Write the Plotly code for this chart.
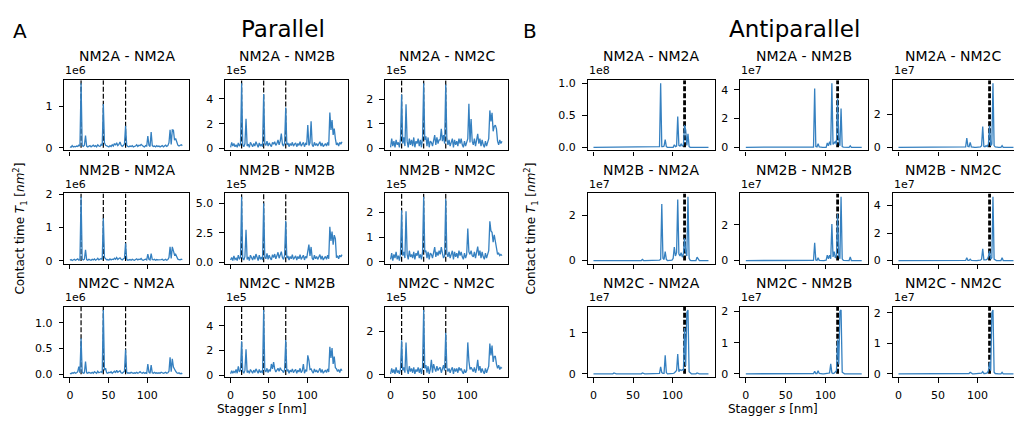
import plotly.graph_objects as go

W, H = 1014, 424

# Stagger grid (nm)
stagger = [round(i * 1.44, 2) for i in range(102)]

proteins = ["NM2A", "NM2B", "NM2C"]

# ---------------- Parallel: values in units of 10^(exp-2) ----------------
par_exp = [[6, 5, 5], [6, 5, 5], [6, 5, 5]]

par_2A_2A = [2, 1, 5, 2, 3, 2, 4, 3, 6, 4,
             155, 5, 3, 6, 29, 4, 2, 3, 5, 2,
             4, 6, 3, 5, 2, 7, 4, 3, 8, 5,
             105, 12, 6, 4, 3, 2, 5, 3, 7, 4,
             10, 6, 12, 5, 8, 14, 6, 3, 5, 9,
             53, 6, 3, 2, 4, 3, 5, 2, 3, 4,
             7, 3, 6, 5, 8, 4, 3, 2, 5, 4,
             28, 6, 3, 38, 5, 3, 4, 2, 5, 3,
             4, 2, 3, 5, 2, 4, 6, 3, 5, 12,
             43, 8, 43, 42, 18, 22, 10, 6, 4, 5,
             7, 5]
par_2A_2B = [10, 50, 20, 40, 15, 30, 10, 45, 20, 35,
             525, 30, 15, 40, 240, 20, 35, 10, 50, 25,
             15, 40, 20, 55, 30, 10, 45, 20, 35, 15,
             440, 40, 25, 60, 20, 45, 30, 15, 50, 35,
             55, 25, 40, 70, 30, 60, 120, 35, 20, 45,
             330, 30, 45, 15, 40, 25, 50, 20, 35, 45,
             15, 40, 25, 55, 20, 35, 50, 15, 40, 30,
             190, 25, 45, 220, 30, 15, 50, 25, 40, 20,
             35, 55, 20, 45, 15, 30, 40, 20, 50, 25,
             290, 150, 230, 110, 160, 80, 30, 45, 20, 50,
             35, 55]
par_2A_2C = [5, 40, 10, 30, 5, 35, 15, 25, 5, 40,
             220, 20, 45, 10, 180, 30, 5, 40, 15, 35,
             10, 45, 5, 30, 20, 40, 10, 35, 5, 45,
             265, 35, 50, 10, 45, 5, 30, 25, 10, 40,
             55, 15, 45, 20, 35, 35, 80, 30, 55, 20,
             260, 40, 15, 35, 10, 25, 40, 5, 35, 15,
             30, 10, 40, 20, 40, 15, 5, 30, 10, 25,
             40, 182, 25, 120, 30, 15, 40, 10, 35, 60,
             20, 40, 10, 35, 15, 5, 30, 10, 25, 40,
             155, 110, 145, 70, 90, 95, 80, 30, 15, 35,
             20, 30]
par_2B_2A = [2, 4, 1, 3, 5, 2, 3, 6, 2, 4,
             193, 6, 3, 5, 33, 4, 2, 5, 3, 2,
             5, 3, 6, 2, 4, 8, 3, 5, 7, 4,
             128, 10, 5, 3, 4, 2, 6, 3, 5, 4,
             8, 5, 10, 4, 7, 9, 5, 3, 6, 8,
             53, 5, 2, 3, 4, 2, 5, 3, 2, 4,
             6, 3, 5, 4, 7, 3, 2, 4, 5, 3,
             20, 5, 3, 22, 4, 3, 5, 2, 4, 3,
             3, 2, 4, 5, 2, 3, 5, 2, 4, 10,
             42, 7, 42, 30, 18, 20, 9, 5, 4, 3,
             5, 4]
par_2B_2B = [20, 40, 15, 55, 25, 35, 15, 60, 30, 40,
             555, 35, 20, 50, 275, 25, 45, 15, 60, 30,
             20, 55, 25, 70, 35, 15, 60, 25, 45, 20,
             500, 45, 30, 75, 25, 60, 35, 20, 65, 40,
             70, 30, 55, 85, 35, 75, 90, 40, 25, 60,
             350, 35, 55, 20, 50, 30, 65, 25, 45, 55,
             20, 50, 30, 65, 25, 45, 60, 20, 50, 35,
             120, 150, 55, 130, 35, 20, 60, 30, 50, 25,
             45, 65, 25, 55, 20, 40, 50, 25, 60, 30,
             300, 180, 260, 150, 230, 200, 40, 55, 30, 60,
             45, 65]
par_2B_2C = [10, 35, 5, 30, 15, 40, 10, 25, 5, 35,
             210, 25, 40, 15, 205, 30, 10, 45, 20, 30,
             15, 40, 10, 35, 25, 45, 15, 30, 10, 40,
             265, 40, 45, 15, 40, 10, 35, 30, 15, 45,
             60, 20, 40, 25, 45, 30, 60, 35, 15, 25,
             255, 35, 20, 40, 15, 30, 45, 10, 40, 20,
             35, 15, 45, 25, 40, 20, 10, 35, 15, 30,
             135, 40, 30, 45, 25, 20, 40, 15, 35, 62,
             25, 45, 15, 40, 20, 10, 35, 15, 30, 45,
             165, 125, 120, 80, 110, 80, 45, 30, 35, 25,
             30, 25]
par_2C_2A = [2, 1, 3, 2, 4, 2, 3, 5, 15, 3,
             70, 4, 2, 3, 25, 3, 2, 4, 3, 2,
             4, 2, 5, 3, 2, 6, 3, 4, 5, 3,
             125, 8, 12, 3, 2, 4, 3, 5, 2, 4,
             6, 3, 8, 4, 5, 7, 3, 2, 4, 6,
             48, 4, 2, 3, 2, 4, 3, 2, 3, 2,
             4, 2, 3, 5, 3, 2, 4, 2, 3, 2,
             20, 4, 2, 18, 3, 2, 4, 2, 3, 2,
             3, 2, 4, 3, 2, 3, 4, 2, 3, 6,
             33, 5, 30, 14, 8, 6, 3, 2, 3, 1,
             2, 1]
par_2C_2B = [10, 35, 15, 30, 20, 45, 15, 70, 25, 40,
             275, 30, 15, 40, 210, 20, 35, 15, 45, 25,
             15, 40, 20, 50, 30, 15, 45, 20, 35, 15,
             530, 40, 25, 55, 20, 45, 30, 90, 50, 105,
             50, 25, 40, 55, 30, 60, 40, 35, 20, 45,
             285, 30, 45, 15, 40, 25, 50, 20, 35, 45,
             15, 40, 25, 55, 20, 35, 90, 15, 40, 30,
             160, 120, 45, 50, 30, 15, 50, 25, 40, 20,
             35, 55, 20, 45, 15, 30, 40, 20, 50, 25,
             230, 140, 220, 90, 150, 60, 50, 30, 45, 20,
             50, 35]
par_2C_2C = [5, 30, 10, 25, 5, 35, 10, 20, 5, 30,
             160, 20, 35, 10, 150, 25, 5, 40, 15, 30,
             10, 35, 5, 25, 15, 35, 10, 30, 5, 40,
             300, 30, 45, 10, 40, 5, 25, 70, 10, 50,
             30, 15, 40, 20, 30, 35, 10, 25, 45, 20,
             195, 35, 15, 30, 10, 25, 35, 5, 30, 15,
             30, 10, 35, 20, 30, 15, 5, 25, 10, 20,
             150, 65, 25, 35, 20, 15, 35, 10, 30, 70,
             20, 40, 10, 30, 15, 5, 30, 10, 25, 40,
             145, 90, 135, 60, 85, 85, 50, 30, 45, 25,
             35, 30]

# ---------------- Antiparallel: values in units of 10^(exp-2) ----------------
anti_exp = [[8, 7, 7], [7, 7, 7], [7, 7, 7]]

anti_2A_2A = [0, 0, 0, 0, 0, 0, 0, 0, 0, 0,
              0, 0, 0, 0, 0, 0, 0, 0, 0, 0,
              0, 0, 0, 0, 0, 0, 0, 0, 0, 0,
              0, 0, 0, 0, 0, 0, 0, 0, 0, 0,
              0, 0, 0, 0, 0, 0, 0, 0, 0, 0,
              0, 0, 0, 0, 0, 0, 0, 1, 1, 100,
              1, 1, 2, 12, 1, 0, 0, 0, 1, 0,
              0, 4, 1, 2, 48, 3, 2, 5, 2, 4,
              35, 27, 3, 21, 1, 0, 0, 0, 0, 0,
              0, 1, 0, 0, 0, 0, 0, 0, 0, 0,
              0, 0]
anti_2A_2B = [0, 0, 0, 0, 0, 0, 0, 0, 0, 0,
              0, 0, 0, 0, 0, 0, 0, 0, 0, 0,
              0, 0, 0, 0, 0, 0, 0, 0, 0, 0,
              0, 0, 0, 0, 0, 0, 0, 0, 0, 0,
              0, 0, 0, 0, 0, 0, 0, 0, 0, 0,
              0, 0, 0, 0, 0, 0, 0, 0, 1, 2,
              410, 5, 3, 25, 2, 0, 0, 0, 0, 1,
              0, 30, 10, 40, 15, 445, 20, 30, 40, 20,
              340, 60, 10, 270, 5, 1, 0, 0, 0, 0,
              0, 10, 0, 0, 0, 0, 0, 0, 0, 0,
              0, 0]
anti_2A_2C = [0, 0, 0, 0, 0, 0, 0, 0, 0, 0,
              0, 0, 0, 0, 0, 0, 0, 0, 0, 0,
              0, 0, 0, 0, 0, 0, 0, 0, 0, 0,
              0, 0, 0, 0, 0, 0, 0, 0, 0, 0,
              0, 0, 0, 0, 0, 0, 0, 0, 0, 0,
              0, 0, 0, 0, 0, 0, 0, 0, 1, 3,
              55, 5, 3, 30, 2, 0, 0, 0, 0, 1,
              0, 1, 2, 10, 125, 5, 3, 10, 5, 20,
              130, 10, 20, 384, 10, 2, 0, 0, 0, 0,
              0, 10, 0, 0, 0, 0, 0, 0, 0, 0,
              0, 0]
anti_2B_2A = [0, 0, 0, 0, 0, 0, 0, 0, 0, 0,
              0, 0, 0, 0, 0, 0, 0, 0, 0, 0,
              0, 0, 0, 0, 0, 0, 0, 0, 0, 0,
              0, 0, 0, 0, 0, 0, 0, 0, 0, 0,
              0, 0, 0, 5, 0, 0, 0, 0, 0, 0,
              0, 0, 0, 0, 0, 0, 0, 0, 2, 5,
              250, 10, 5, 40, 5, 0, 0, 0, 1, 2,
              10, 60, 20, 35, 270, 30, 20, 35, 15, 30,
              100, 40, 20, 283, 10, 1, 0, 0, 0, 0,
              0, 15, 5, 0, 0, 0, 0, 0, 0, 0,
              0, 0]
anti_2B_2B = [0, 0, 0, 0, 0, 0, 0, 0, 0, 0,
              0, 0, 0, 0, 0, 0, 0, 0, 0, 0,
              0, 0, 0, 0, 0, 0, 0, 0, 0, 0,
              0, 0, 0, 0, 0, 0, 0, 0, 0, 0,
              0, 0, 0, 0, 0, 0, 0, 0, 0, 0,
              0, 0, 0, 0, 0, 0, 0, 0, 0, 1,
              100, 3, 1, 15, 1, 0, 0, 0, 0, 1,
              2, 30, 10, 30, 10, 205, 20, 50, 15, 30,
              260, 30, 10, 358, 10, 1, 0, 0, 0, 0,
              0, 20, 0, 0, 0, 0, 0, 0, 0, 0,
              0, 0]
anti_2B_2C = [0, 0, 0, 0, 0, 0, 0, 0, 0, 0,
              0, 0, 0, 0, 0, 0, 0, 0, 0, 0,
              0, 0, 0, 0, 0, 0, 0, 0, 0, 0,
              0, 0, 0, 0, 0, 0, 0, 0, 0, 0,
              0, 0, 0, 0, 0, 0, 0, 0, 0, 0,
              0, 0, 0, 0, 0, 0, 0, 0, 0, 1,
              20, 1, 1, 10, 1, 0, 0, 0, 0, 0,
              1, 2, 3, 10, 85, 5, 3, 5, 10, 30,
              70, 10, 20, 464, 10, 1, 0, 0, 0, 0,
              0, 20, 0, 0, 0, 0, 0, 0, 0, 0,
              0, 0]
anti_2C_2A = [0, 0, 0, 0, 0, 0, 0, 0, 0, 0,
              0, 0, 0, 0, 0, 0, 0, 0, 2, 0,
              0, 0, 0, 0, 0, 0, 0, 0, 0, 0,
              0, 0, 0, 0, 0, 0, 0, 0, 0, 0,
              0, 0, 0, 2, 0, 0, 0, 0, 0, 0,
              0, 0, 0, 0, 0, 0, 0, 0, 1, 17,
              3, 1, 1, 45, 3, 0, 0, 0, 0, 1,
              1, 2, 5, 8, 48, 5, 10, 8, 10, 8,
              112, 20, 150, 156, 5, 1, 0, 0, 0, 0,
              0, 2, 0, 0, 0, 0, 0, 0, 0, 0,
              0, 0]
anti_2C_2B = [0, 0, 0, 0, 0, 0, 0, 0, 0, 0,
              0, 0, 0, 0, 0, 0, 0, 0, 0, 0,
              0, 0, 0, 0, 0, 0, 0, 0, 0, 0,
              0, 0, 0, 0, 0, 0, 0, 0, 0, 0,
              0, 0, 0, 0, 0, 0, 0, 0, 0, 0,
              0, 0, 0, 0, 0, 0, 0, 0, 0, 1,
              8, 1, 1, 10, 1, 0, 0, 0, 0, 0,
              0, 1, 2, 3, 32, 3, 1, 2, 5, 10,
              110, 30, 200, 205, 5, 1, 0, 0, 0, 0,
              0, 2, 0, 0, 0, 0, 0, 0, 0, 0,
              0, 0]
anti_2C_2C = [0, 0, 0, 0, 0, 0, 0, 0, 0, 0,
              0, 0, 0, 0, 0, 0, 0, 0, 0, 0,
              0, 0, 0, 0, 0, 0, 0, 0, 0, 0,
              0, 0, 0, 0, 0, 0, 0, 0, 0, 0,
              0, 0, 0, 0, 0, 0, 0, 0, 0, 0,
              0, 0, 0, 0, 0, 0, 0, 0, 0, 0,
              1, 0, 1, 5, 1, 0, 0, 0, 0, 0,
              0, 1, 1, 2, 7, 1, 1, 2, 3, 10,
              38, 10, 200, 210, 5, 1, 0, 0, 0, 0,
              0, 5, 0, 0, 0, 0, 0, 0, 0, 0,
              0, 0]

par_data = [[par_2A_2A, par_2A_2B, par_2A_2C],
            [par_2B_2A, par_2B_2B, par_2B_2C],
            [par_2C_2A, par_2C_2B, par_2C_2C]]
anti_data = [[anti_2A_2A, anti_2A_2B, anti_2A_2C],
             [anti_2B_2A, anti_2B_2B, anti_2B_2C],
             [anti_2C_2A, anti_2C_2B, anti_2C_2C]]

par_yticks = [[[0, 1], [0, 2, 4], [0, 1, 2]],
              [[0, 1, 2], [0, 2.5, 5.0], [0, 1, 2]],
              [[0, 0.5, 1.0], [0, 2, 4], [0, 2]]]
anti_yticks = [[[0, 0.5, 1.0], [0, 2, 4], [0, 2]],
               [[0, 2], [0, 2], [0, 2, 4]],
               [[0, 1], [0, 1, 2], [0, 1, 2]]]

par_markers = [14.4, 43.2, 72.0]
anti_markers = [115.2]

x_ticks = [0, 50, 100]

# ---------------- layout geometry (pixels) ----------------
boxes_x = {"A": [(64.3, 188.7), (225.0, 348.3), (385.0, 508.3)],
           "B": [(587.7, 715.0), (740.0, 868.3), (892.7, 1014.0)]}
boxes_y = [(77, 149), (193, 265), (309, 381)]
FULL_W = 127.3
XR0, XR1 = -7.3, 153.7

FONT = "DejaVu Sans"
LINE_C = "#3580c0"

fig = go.Figure()
layout = {}
shapes = []
annotations = []


def px(x):
    return x / W


def py(y):
    return 1 - y / H


def fmt(v, dec):
    return f"{v:.1f}" if dec else f"{int(v)}"


n = 0
for panel, data, exps, yticks, markers, mw in [
        ("A", par_data, par_exp, par_yticks, par_markers, 1.2),
        ("B", anti_data, anti_exp, anti_yticks, anti_markers, 2.8)]:
    for r in range(3):
        for c in range(3):
            n += 1
            sfx = "" if n == 1 else str(n)
            vals = [v / 100 for v in data[r][c]]
            ymin, ymax = min(vals), max(vals)
            pad = 0.05 * (ymax - ymin)
            yr = [ymin - pad, ymax + pad]
            x0, x1 = boxes_x[panel][c]
            y0, y1 = boxes_y[r]
            cut = (panel == "B" and c == 2)
            xr1 = XR1 if not cut else XR0 + (XR1 - XR0) * (x1 - x0) / FULL_W

            fig.add_trace(go.Scatter(x=stagger, y=vals, mode="lines",
                                     line=dict(color=LINE_C, width=1.3),
                                     xaxis="x" + sfx, yaxis="y" + sfx,
                                     showlegend=False, hoverinfo="skip"))
            tv = yticks[r][c]
            dec = any(abs(t - round(t)) > 1e-9 for t in tv)
            common = dict(ticks="outside", ticklen=4.5, tickwidth=1.1, tickcolor="black",
                          showline=True, linecolor="black", linewidth=1.3,
                          showgrid=False, zeroline=False,
                          tickfont=dict(family=FONT, size=11, color="black"))
            layout["xaxis" + sfx] = dict(domain=[px(x0), px(x1)], anchor="y" + sfx,
                                         range=[XR0, xr1], tickvals=x_ticks,
                                         ticktext=[str(t) for t in x_ticks],
                                         showticklabels=(r == 2), mirror=True,
                                         ticklabelstandoff=3, **common)
            layout["yaxis" + sfx] = dict(domain=[py(y1), py(y0)], anchor="x" + sfx,
                                         range=yr, tickvals=tv,
                                         ticktext=[fmt(t, dec) for t in tv],
                                         mirror=(not cut), ticklabelstandoff=4, **common)
            for m in markers:
                shapes.append(dict(type="line", xref="x" + sfx, yref="y" + sfx,
                                   x0=m, x1=m, y0=0, y1=yr[1], layer="below",
                                   line=dict(color="black", width=mw, dash="5px,2px")))
            # subplot title
            annotations.append(dict(text=f"{proteins[r]} - {proteins[c]}",
                                    x=px((x0 + min(x1, x0 + FULL_W)) / 2), y=py(y0 - 24.5),
                                    xref="paper", yref="paper", showarrow=False,
                                    xanchor="center", yanchor="middle",
                                    font=dict(family=FONT, size=14, color="black")))
            # offset text
            annotations.append(dict(text=f"1e{exps[r][c]}", x=px(x0 - 1), y=py(y0 - 9.5),
                                    xref="paper", yref="paper", showarrow=False,
                                    xanchor="left", yanchor="middle",
                                    font=dict(family=FONT, size=11, color="black")))

# Panel titles and labels
for text, x, y, size in [("Parallel", 282.5, 24.5, 23), ("Antiparallel", 794.5, 24.5, 23),
                         ("A", 20.3, 27, 20), ("B", 530, 27, 20)]:
    annotations.append(dict(text=text, x=px(x), y=py(y), xref="paper", yref="paper",
                            showarrow=False, xanchor="center", yanchor="middle",
                            font=dict(family=FONT, size=size, color="black")))

for x in [261.7, 773]:
    annotations.append(dict(text="Stagger <i>s</i> [nm]", x=px(x), y=py(414),
                            xref="paper", yref="paper", showarrow=False,
                            xanchor="center", yanchor="middle",
                            font=dict(family=FONT, size=12, color="black")))
for x in [20, 531]:
    annotations.append(dict(text="Contact time <i>T</i><sub>1</sub> [<i>nm</i><sup>2</sup>]",
                            x=px(x), y=py(229), textangle=-90,
                            xref="paper", yref="paper", showarrow=False,
                            xanchor="center", yanchor="middle",
                            font=dict(family=FONT, size=12, color="black")))

fig.update_layout(width=W, height=H, margin=dict(l=0, r=0, t=0, b=0),
                  paper_bgcolor="white", plot_bgcolor="white",
                  shapes=shapes, annotations=annotations, **layout)

fig.write_html("out.html")
